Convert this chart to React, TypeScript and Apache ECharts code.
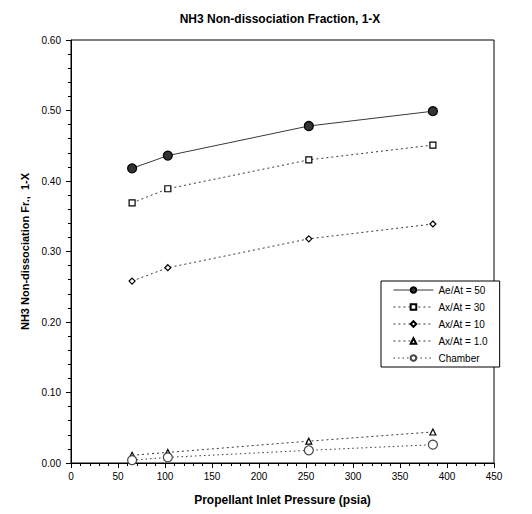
import React, { useEffect, useRef } from "react";
import * as echarts from "echarts";

const pressures = [65, 103, 253, 385];
const ae50 = [0.418, 0.436, 0.478, 0.499];
const ax30 = [0.369, 0.389, 0.430, 0.451];
const ax10 = [0.258, 0.277, 0.318, 0.339];
const ax1 = [0.011, 0.015, 0.031, 0.044];
const chamber = [0.004, 0.008, 0.018, 0.026];

const seriesNames = ["Ae/At = 50", "Ax/At = 30", "Ax/At = 10", "Ax/At = 1.0", "Chamber"];
const xTicks = [0, 50, 100, 150, 200, 250, 300, 350, 400, 450];
const yTicks = [0, 0.1, 0.2, 0.3, 0.4, 0.5, 0.6];

const FONT = "'Liberation Sans', Arial, sans-serif";

export default function App() {
  const ref = useRef<HTMLDivElement>(null);
  useEffect(() => {
    if (!ref.current) return;
    const chart = echarts.init(ref.current, undefined, { renderer: "svg" });
    const pair = (ys: number[]) => pressures.map((x, i) => [x, ys[i]]);
    const mk = (
      name: string,
      ys: number[],
      symbol: string,
      size: number,
      fill: string,
      lineType: any,
      strokeColor = "#000"
    ) => ({
      name,
      type: "line",
      data: pair(ys),
      symbol,
      symbolSize: size,
      showAllSymbol: true,
      lineStyle: { color: "#222", width: 0.9, type: lineType },
      itemStyle: { color: fill, borderColor: strokeColor, borderWidth: 1.2 },
      emphasis: { disabled: true },
    });
    chart.setOption({
      animation: false,
      backgroundColor: "#fff",
      title: {
        text: "NH3 Non-dissociation Fraction, 1-X",
        left: 275,
        textAlign: "center",
        top: 8,
        textStyle: { fontFamily: FONT, fontSize: 12, fontWeight: "bold", color: "#000" },
      },
      grid: {
        left: 71,
        top: 40,
        width: 423,
        height: 423,
        show: true,
        borderColor: "#000",
        borderWidth: 1,
      },
      xAxis: {
        type: "value",
        min: xTicks[0],
        max: xTicks[xTicks.length - 1],
        interval: 50,
        name: "Propellant Inlet Pressure (psia)",
        nameLocation: "middle",
        nameGap: 31,
        nameTextStyle: { fontFamily: FONT, fontSize: 12, fontWeight: "bold", color: "#000" },
        axisLine: { lineStyle: { color: "#000", width: 1 } },
        axisTick: { show: true, length: 5, lineStyle: { color: "#000" } },
        minorTick: { show: true, splitNumber: 5, length: 3, lineStyle: { color: "#000" } },
        splitLine: { show: false },
        axisLabel: { fontFamily: FONT, fontSize: 10, color: "#000", margin: 8 },
      },
      yAxis: {
        type: "value",
        min: yTicks[0],
        max: yTicks[yTicks.length - 1],
        interval: 0.1,
        name: "NH3 Non-dissociation Fr.,  1-X",
        nameLocation: "middle",
        nameGap: 38,
        nameTextStyle: { fontFamily: FONT, fontSize: 11, fontWeight: "bold", color: "#000" },
        axisLine: { show: true, lineStyle: { color: "#000", width: 1 } },
        axisTick: { show: true, length: 5, lineStyle: { color: "#000" } },
        minorTick: { show: true, splitNumber: 5, length: 3, lineStyle: { color: "#000" } },
        splitLine: { show: false },
        axisLabel: {
          fontFamily: FONT,
          fontSize: 10,
          color: "#000",
          margin: 10,
          formatter: (v: number) => v.toFixed(2),
        },
      },
      legend: {
        orient: "vertical",
        left: 381,
        top: 281,
        width: 96,
        itemWidth: 40,
        itemHeight: 7,
        itemGap: 7,
        padding: [4, 12, 4, 12],
        borderColor: "#000",
        borderWidth: 1,
        backgroundColor: "#fff",
        lineStyle: { width: 0.9 },
        textStyle: { fontFamily: FONT, fontSize: 10, color: "#000" },
        data: seriesNames,
      },
      series: [
        mk(seriesNames[0], ae50, "circle", 9, "#333", "solid"),
        mk(seriesNames[1], ax30, "rect", 6, "#fff", [2, 3]),
        mk(seriesNames[2], ax10, "diamond", 6, "#fff", [2, 3]),
        mk(seriesNames[3], ax1, "triangle", 6, "#fff", [2, 3]),
        mk(seriesNames[4], chamber, "circle", 9, "#fff", [1.5, 3], "#444"),
      ],
    });
    return () => chart.dispose();
  }, []);
  return (
    <div
      ref={ref}
      style={{ position: "fixed", left: 0, top: 0, width: 532, height: 514, background: "#fff" }}
    />
  );
}
